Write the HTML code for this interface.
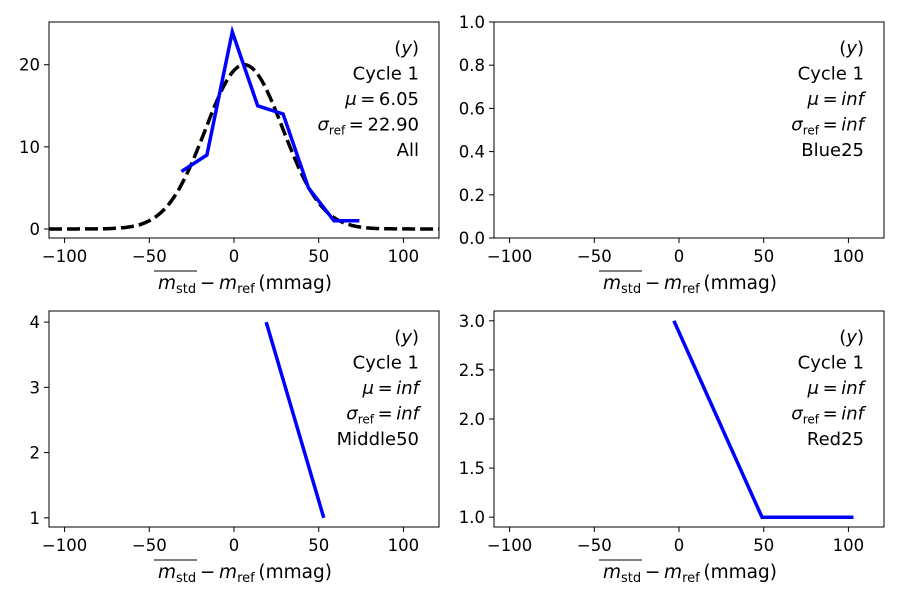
<!DOCTYPE html>
<html><head><meta charset="utf-8"><style>
body{margin:0;background:#fff;}
svg{display:block;font-family:"DejaVu Sans","Liberation Sans",sans-serif;}
</style></head><body>
<svg id="fig" width="900" height="600" xmlns="http://www.w3.org/2000/svg"></svg>
<script>
const xTicks=[-100,-50,0,50,100];
const p1X=[-31,-16,-1,14,29,44,59,74];
const p1Y=[7,9,24,15,14,5,1,1];
const p1YTicks=[0,10,20];
const p2YTicks=[0.0,0.2,0.4,0.6,0.8,1.0];
const p3X=[19,53];
const p3Y=[4,1];
const p3YTicks=[1,2,3,4];
const p4X=[-3,49,103];
const p4Y=[3,1,1];
const p4YTicks=[1.0,1.5,2.0,2.5,3.0];
const gaussMu=6.05, gaussSigma=22.9, gaussAmp=20;
const labels=[["All","6.05","22.90"],["Blue25","inf","inf"],["Middle50","inf","inf"],["Red25","inf","inf"]];

const NS="http://www.w3.org/2000/svg";
const svg=document.getElementById('fig');
function el(t,a,p){const e=document.createElementNS(NS,t);for(const k in a)e.setAttribute(k,a[k]);(p||svg).appendChild(e);return e;}

function panel(idx,L,T,yMin,yMax,yTicks,dec,xs,ys,gauss){
  const W=390,H=216,xMin=-109.2,xMax=121;
  const sx=v=>L+(v-xMin)/(xMax-xMin)*W;
  const sy=v=>T+H-(v-yMin)/(yMax-yMin)*H;
  const g=el('g',{});
  
  
  if(gauss){
    let d='';
    for(let v=xMin;v<=xMax;v+=1){const y=gaussAmp*Math.exp(-0.5*((v-gaussMu)/gaussSigma)**2);d+=(d?'L':'M')+sx(v).toFixed(1)+','+sy(y).toFixed(1);}
    const gp=el('path',{d:d,fill:'none',stroke:'#000','stroke-width':3.5,'stroke-dasharray':'13,5'},g);
    
    
  }
  if(xs.length){
    const pts=xs.map((v,i)=>sx(v).toFixed(1)+','+sy(ys[i]).toFixed(1)).join(' ');
    const pl=el('polyline',{points:pts,fill:'none',stroke:'#0000ff','stroke-width':3.5},g);
    
    
  }
  const fr=el('rect',{x:L,y:T,width:W,height:H,fill:'none',stroke:'#000','stroke-width':1},g);
  
  
  xTicks.forEach(v=>{
    el('line',{x1:sx(v),x2:sx(v),y1:T+H,y2:T+H+5,stroke:'#000'},g);
    const t=el('text',{x:sx(v),y:T+H+24,'font-size':16.5,'text-anchor':'middle'},g);
    t.textContent=(v<0?'\u2212'+(-v):v);
    
    
  });
  yTicks.forEach(v=>{
    el('line',{x1:L-5,x2:L,y1:sy(v),y2:sy(v),stroke:'#000'},g);
    const t=el('text',{x:L-9,y:sy(v)+6,'font-size':16.5,'text-anchor':'end'},g);
    t.textContent=v.toFixed(dec);
    
    
  });
  const xl=el('text',{x:L+W/2+1,y:T+H+51,'font-size':18.5,'text-anchor':'middle'},g);
  xl.innerHTML='<tspan font-style="italic">m</tspan><tspan font-size="13" dy="4">std</tspan><tspan dy="-4">\u2009\u2212\u2009</tspan><tspan font-style="italic">m</tspan><tspan font-size="13" dy="4">ref</tspan><tspan dy="-4">\u2009(mmag)</tspan>';
  const ol=el('line',{x1:L+W/2-90,x2:L+W/2-47,y1:T+H+33,y2:T+H+33,stroke:'#000','stroke-width':1},g);
  
  
  
  
  const ax=L+W-20;
  const lab=labels[idx];
  const lines=['(<tspan font-style="italic">y</tspan>)','Cycle 1',
   '<tspan font-style="italic">μ</tspan>\u2009=\u2009<tspan'+(lab[1]=='inf'?' font-style="italic"':'')+'>'+lab[1]+'</tspan>',
   '<tspan font-style="italic">σ</tspan><tspan font-size="12" dy="4">ref</tspan><tspan dy="-4">\u2009=\u2009</tspan><tspan'+(lab[2]=='inf'?' font-style="italic"':'')+'>'+lab[2]+'</tspan>',
   lab[0]];
  lines.forEach((s,i)=>{
    const t=el('text',{x:ax,y:T+32+i*25.5,'font-size':18,'text-anchor':'end'},g);
    t.innerHTML=s;
    
    
  });
}
panel(0,49,22,-1.1,25.2,p1YTicks,0,p1X,p1Y,true);
panel(1,494,22,0,1,p2YTicks,1,[],[],false);
panel(2,49,311,0.86,4.17,p3YTicks,0,p3X,p3Y,false);
panel(3,494,311,0.9,3.1,p4YTicks,1,p4X,p4Y,false);
</script>
</body></html>
